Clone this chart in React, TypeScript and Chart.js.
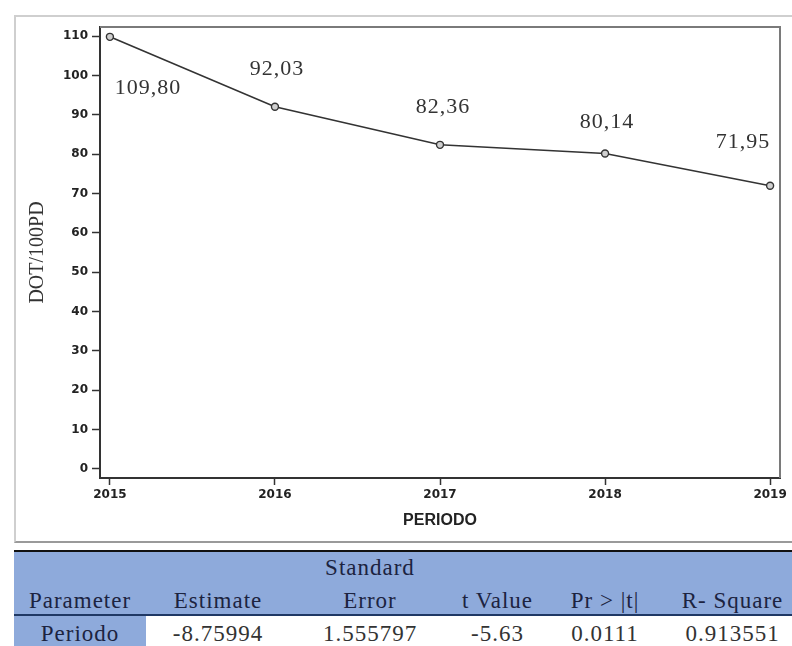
import { useEffect, useRef } from "react";
import { Chart, registerables } from "chart.js";

Chart.register(...registerables);

// Rate per year (DOT/100PD)
const years = [2015, 2016, 2017, 2018, 2019];
const dotValues = [109.8, 92.03, 82.36, 80.14, 71.95];
const yTickValues = [0, 10, 20, 30, 40, 50, 60, 70, 80, 90, 100, 110];

// Where each value label sits relative to its point (px)
const labelOffsets: [number, number][] = [
  [38, 51],
  [2, -38],
  [3, -38],
  [2, -31],
  [-27, -44],
];

// Regression summary table
const headerTop = ["", "", "Standard", "", "", ""];
const headerBottom = ["Parameter", "Estimate", "Error", "t Value", "Pr > |t|", "R- Square"];
const rowValues = ["Periodo", "-8.75994", "1.555797", "-5.63", "0.0111", "0.913551"];
const colEdges = [14, 146, 290, 450, 545, 665, 800];

const fmtComma = (v: number) => v.toFixed(2).replace(".", ",");

const valueLabels = {
  id: "valueLabels",
  afterDatasetsDraw(chart: any) {
    const meta = chart.getDatasetMeta(0);
    const ctx = chart.ctx;
    ctx.save();
    ctx.font = '22px "Liberation Serif"';
    (ctx as any).letterSpacing = "1px";
    ctx.fillStyle = "#333";
    ctx.textAlign = "center";
    ctx.textBaseline = "middle";
    meta.data.forEach((pt: any, i: number) => {
      const [dx, dy] = labelOffsets[i];
      ctx.fillText(fmtComma(dotValues[i]), pt.x + dx, pt.y + dy);
    });
    ctx.restore();
  },
};

// Top and right edges of the plot box
const plotFrame = {
  id: "plotFrame",
  beforeDatasetsDraw(chart: any) {
    const { ctx, chartArea } = chart;
    ctx.save();
    ctx.strokeStyle = "#7a7a7a";
    ctx.lineWidth = 2;
    ctx.beginPath();
    ctx.moveTo(chartArea.left, chartArea.top);
    ctx.lineTo(chartArea.right, chartArea.top);
    ctx.lineTo(chartArea.right, chartArea.bottom);
    ctx.stroke();
    ctx.restore();
  },
};

function DotChart() {
  const ref = useRef<HTMLCanvasElement | null>(null);
  useEffect(() => {
    if (!ref.current) return;
    const chart = new Chart(ref.current, {
      type: "line",
      data: {
        datasets: [
          {
            data: years.map((x, i) => ({ x, y: dotValues[i] })),
            borderColor: "#333",
            borderWidth: 1.6,
            pointRadius: 3.5,
            pointBorderWidth: 1.4,
            pointBorderColor: "#333",
            pointBackgroundColor: "#d0d0d0",
            tension: 0,
          },
        ],
      },
      options: {
        responsive: false,
        animation: false,
        layout: { padding: { top: 27, right: 12, left: 0, bottom: 0 } },
        plugins: { legend: { display: false }, tooltip: { enabled: false } },
        scales: {
          x: {
            type: "linear",
            min: 2014.94,
            max: 2019.06,
            afterBuildTicks: (s: any) => {
              s.ticks = years.map((v) => ({ value: v }));
            },
            afterFit: (s: any) => {
              s.height = 62;
            },
            border: { color: "#333", width: 2 },
            grid: {
              drawOnChartArea: false,
              drawTicks: true,
              tickLength: 7,
              tickColor: "#333",
              tickWidth: 1.5,
            },
            ticks: {
              font: { family: "DejaVu Sans", weight: "bold", size: 12 },
              color: "#222",
              padding: 3,
              maxRotation: 0,
              autoSkip: false,
              callback: (v: any) => String(v),
            },
            title: {
              display: true,
              text: "PERIODO",
              font: { family: "Liberation Sans", weight: "bold", size: 16 },
              color: "#222",
              padding: { top: 0, bottom: 10 },
            },
          },
          y: {
            min: -2.3,
            max: 112.3,
            afterBuildTicks: (s: any) => {
              s.ticks = yTickValues.map((v) => ({ value: v }));
            },
            afterFit: (s: any) => {
              s.width = 100;
            },
            border: { color: "#333", width: 2 },
            grid: {
              drawOnChartArea: false,
              drawTicks: true,
              tickLength: 8,
              tickColor: "#333",
              tickWidth: 1.5,
            },
            ticks: {
              font: { family: "DejaVu Sans", weight: "bold", size: 12 },
              color: "#222",
              padding: 4,
              callback: (v: any) => String(v),
            },
            title: {
              display: true,
              text: "DOT/100PD",
              font: { family: "Liberation Serif", size: 20 },
              color: "#333",
              padding: { top: 26, bottom: 0 },
            },
          },
        },
      } as any,
      plugins: [plotFrame, valueLabels],
    });
    return () => chart.destroy();
  }, []);
  return (
    <canvas
      ref={ref}
      width={792}
      height={540}
      style={{ position: "absolute", left: 0, top: 0, width: 792, height: 540 }}
    />
  );
}

const cellFont: React.CSSProperties = {
  fontFamily: '"Liberation Serif", serif',
  fontSize: 23,
  letterSpacing: "1px",
  lineHeight: "26px",
  position: "absolute",
  textAlign: "center",
  whiteSpace: "nowrap",
};

function cellText(text: string, col: number, centerY: number, color: string, key: string) {
  const left = colEdges[col];
  const width = colEdges[col + 1] - colEdges[col];
  return (
    <div key={key} style={{ ...cellFont, left, width, top: centerY - 13, color }}>
      {text}
    </div>
  );
}

export default function App() {
  return (
    <div
      style={{
        position: "absolute",
        left: 0,
        top: 0,
        width: 792,
        height: 646,
        overflow: "hidden",
        background: "#fff",
      }}
    >
      {/* outer frame around the plot */}
      <div
        style={{
          position: "absolute",
          left: 14,
          top: 15,
          width: 800,
          height: 528,
          boxSizing: "border-box",
          borderTop: "2px solid #cfcfcf",
          borderLeft: "2px solid #cfcfcf",
          borderBottom: "2px solid #9a9a9a",
        }}
      />
      <DotChart />
      {/* summary table */}
      <div style={{ position: "absolute", left: 14, top: 550, width: 800, height: 2, background: "#111" }} />
      <div style={{ position: "absolute", left: 14, top: 552, width: 800, height: 62, background: "#8eaadb" }} />
      <div style={{ position: "absolute", left: 14, top: 614, width: 800, height: 2, background: "#1f3864" }} />
      <div
        style={{
          position: "absolute",
          left: colEdges[0],
          top: 616,
          width: colEdges[1] - colEdges[0],
          height: 40,
          background: "#8eaadb",
        }}
      />
      {headerTop.map((t, i) => (t ? cellText(t, i, 568, "#1c2340", "ht" + i) : null))}
      {headerBottom.map((t, i) => cellText(t, i, 601, "#1c2340", "hb" + i))}
      {rowValues.map((t, i) => cellText(t, i, 634, i === 0 ? "#1c2340" : "#333", "r" + i))}
    </div>
  );
}
